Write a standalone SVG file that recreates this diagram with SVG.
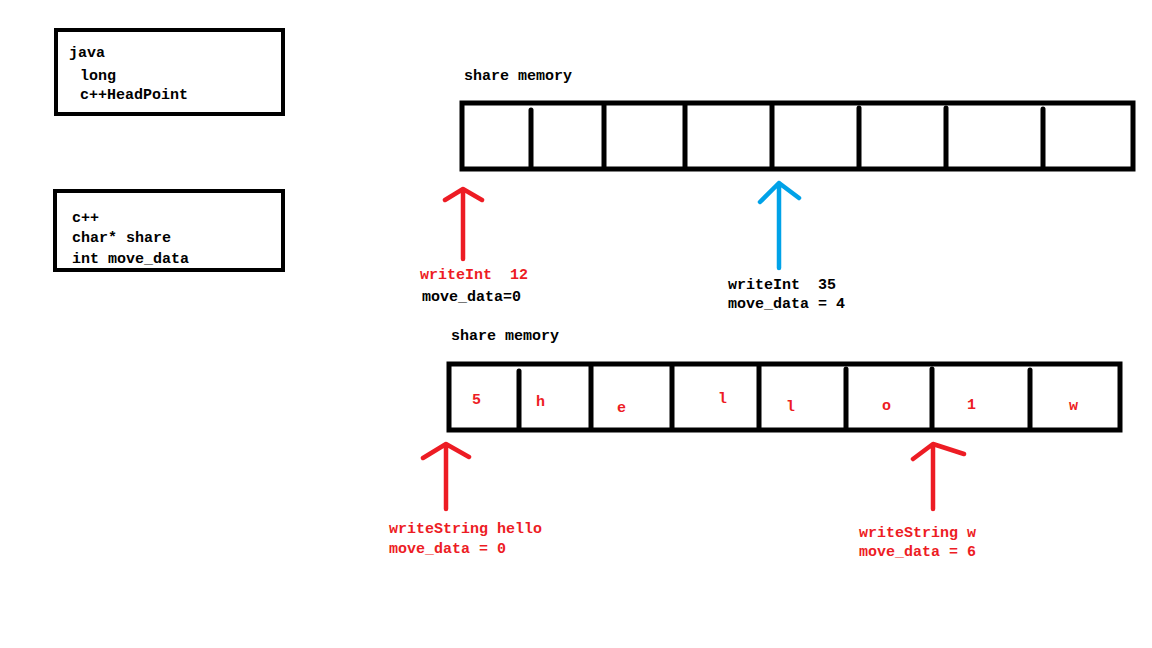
<svg xmlns="http://www.w3.org/2000/svg" width="1152" height="648" viewBox="0 0 1152 648">
<style>
.box{fill:#fff;stroke:#000;stroke-width:4}
.mem{fill:#fff;stroke:#000;stroke-width:5}
.div{stroke:#000;stroke-width:5;stroke-linecap:round}
.t{font-family:"Liberation Mono",monospace;font-weight:bold;font-size:15px;fill:#000;white-space:pre}
.r{fill:#ed1c24}
.ar{fill:none;stroke:#ed1c24;stroke-width:4.5;stroke-linecap:round;stroke-linejoin:round}
.ab{fill:none;stroke:#00a2e8;stroke-width:4.5;stroke-linecap:round;stroke-linejoin:round}
</style>
<rect width="1152" height="648" fill="#fff"/>
<g id="java">
<rect class="box" x="56" y="30" width="227" height="84"/>
<text class="t" x="69" y="57">java</text>
<text class="t" x="80" y="80">long</text>
<text class="t" x="80" y="99">c++HeadPoint</text>
</g>
<g id="cpp">
<rect class="box" x="55" y="191" width="228" height="79"/>
<text class="t" x="72" y="222">c++</text>
<text class="t" x="72" y="242">char* share</text>
<text class="t" x="72" y="263">int move_data</text>
</g>
<g id="memory1">
<text class="t" x="464" y="80">share memory</text>
<rect class="mem" x="462" y="103" width="671" height="66"/>
<line class="div" x1="531" y1="110" x2="531" y2="167"/>
<line class="div" x1="604" y1="105" x2="604" y2="167"/>
<line class="div" x1="685" y1="105" x2="685" y2="167"/>
<line class="div" x1="772" y1="105" x2="772" y2="167"/>
<line class="div" x1="859" y1="108" x2="859" y2="167"/>
<line class="div" x1="946" y1="108" x2="946" y2="167"/>
<line class="div" x1="1043" y1="109" x2="1043" y2="167"/>
</g>
<g id="memory2">
<text class="t" x="451" y="340">share memory</text>
<rect class="mem" x="449" y="364" width="671" height="66"/>
<line class="div" x1="519" y1="371" x2="519" y2="428"/>
<line class="div" x1="591" y1="366" x2="591" y2="428"/>
<line class="div" x1="672" y1="366" x2="672" y2="428"/>
<line class="div" x1="759" y1="366" x2="759" y2="428"/>
<line class="div" x1="846" y1="369" x2="846" y2="428"/>
<line class="div" x1="932" y1="369" x2="932" y2="428"/>
<line class="div" x1="1030" y1="370" x2="1030" y2="428"/>
<text class="t r" x="472" y="404">5</text>
<text class="t r" x="536" y="406">h</text>
<text class="t r" x="617" y="412">e</text>
<text class="t r" x="718" y="403">l</text>
<text class="t r" x="786" y="411">l</text>
<text class="t r" x="882" y="410">o</text>
<text class="t r" x="967" y="409">1</text>
<text class="t r" x="1069" y="410">w</text>
</g>
<g id="connectors">
<path class="ar" d="M463 259V190M445 200L463 189L482 200"/>
<path class="ab" d="M779 268V183M760 202L779 183L799 198"/>
<path class="ar" d="M446 509V445M423 458L446 444L469 457"/>
<path class="ar" d="M933 509V445M913 459L933 444L964 454"/>
</g>
<g id="labels">
<text class="t r" x="420" y="279" xml:space="preserve">writeInt  12</text>
<text class="t" x="422" y="301">move_data=0</text>
<text class="t" x="728" y="289" xml:space="preserve">writeInt  35</text>
<text class="t" x="728" y="308">move_data = 4</text>
<text class="t r" x="389" y="533">writeString hello</text>
<text class="t r" x="389" y="553">move_data = 0</text>
<text class="t r" x="859" y="537">writeString w</text>
<text class="t r" x="859" y="556">move_data = 6</text>
</g>
</svg>
